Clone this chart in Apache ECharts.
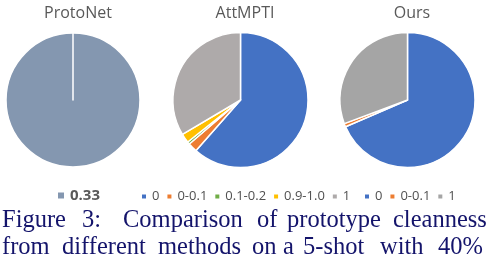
<!DOCTYPE html>
<html>
<head>
<meta charset="utf-8">
<script src="https://cdn.jsdelivr.net/npm/echarts@6/dist/echarts.min.js"></script>
<style>html,body{margin:0;padding:0;background:#fff}#c{width:488px;height:274px}</style>
</head>
<body>
<div id="c"></div>
<script>
// ---- data ----
const titles = ['ProtoNet', 'AttMPTI', 'Ours'];
const protoNames = ['0.33'];
const protoValues = [1];
const attNames = ['0', '0-0.1', '0.1-0.2', '0.9-1.0', '1'];
const attValues = [0.615, 0.022, 0.006, 0.022, 0.335];
const oursNames = ['0', '0-0.1', '1'];
const oursValues = [0.685, 0.008, 0.307];
const captionLine1 = ['Figure', '3:', 'Comparison', 'of', 'prototype', 'cleanness'];
const captionLine2 = ['from', 'different', 'methods', 'on', 'a', '5-shot', 'with', '40%'];

// ---- styles ----
const colorMap = {'0': '#4472C4', '0-0.1': '#ED7D31', '0.1-0.2': '#70AD47', '0.9-1.0': '#FFC000'};
const protoColor = '#8497B0';
const attGray = '#AEAAAA';
const oursGray = '#A5A5A5';
const txt = '#595959';
const capColor = '#14146b';
const line1X = [2, 82, 123, 257, 287, 393];
const line2X = [2, 62, 158, 252, 283, 303, 380, 438];

function mk(names, values, gray) {
  return names.map((n, i) => ({name: n, value: values[i],
    itemStyle: {color: n === '1' ? gray : colorMap[n]}}));
}
const protoData = protoNames.map((n, i) => ({name: n, value: protoValues[i], itemStyle: {color: protoColor}}));
protoData.push({name: ' ', value: 0, itemStyle: {color: protoColor}});

const pieBase = {
  type: 'pie', startAngle: 90, clockwise: true,
  label: {show: false}, labelLine: {show: false},
  itemStyle: {borderColor: '#fff', borderWidth: 1.5},
  emphasis: {disabled: true}, animation: false, stillShowZeroSum: true
};

const capFont = '24.5px "Liberation Serif"';
const graphics = [];
captionLine1.forEach((w, i) => graphics.push({type: 'text', x: line1X[i], y: 221,
  style: {text: w, font: capFont, fill: capColor, verticalAlign: 'middle'}}));
captionLine2.forEach((w, i) => graphics.push({type: 'text', x: line2X[i], y: 248,
  style: {text: w, font: capFont, fill: capColor, verticalAlign: 'middle'}}));

const chart = echarts.init(document.getElementById('c'), null, {renderer: 'canvas'});
chart.setOption({
  animation: false,
  title: [
    {text: titles[0], left: 73, top: 0, textAlign: 'center'},
    {text: titles[1], left: 240, top: 0, textAlign: 'center'},
    {text: titles[2], left: 407, top: 0, textAlign: 'center'}
  ].map(t => Object.assign(t, {textStyle: {fontFamily: 'Open Sans', fontSize: 16, fontWeight: 'normal', color: txt}})),
  legend: [
    {data: protoNames, left: 51, top: 183, icon: 'rect', itemWidth: 8, itemHeight: 8, itemGap: 5,
     textStyle: {fontFamily: 'Open Sans', fontSize: 15, fontWeight: 'bold', color: txt}, selectedMode: false},
    {data: attNames.map(n => ({name: n, itemStyle: {color: n === '1' ? attGray : colorMap[n]}})),
     left: 135, top: 185, icon: 'rect', itemWidth: 6, itemHeight: 6, itemGap: 6,
     textStyle: {fontFamily: 'Open Sans', fontSize: 13, color: '#505050'}, selectedMode: false},
    {data: oursNames.map(n => ({name: n, itemStyle: {color: n === '1' ? oursGray : colorMap[n]}})),
     left: 358, top: 185, icon: 'rect', itemWidth: 6, itemHeight: 6, itemGap: 6,
     textStyle: {fontFamily: 'Open Sans', fontSize: 13, color: '#505050'}, selectedMode: false}
  ],
  series: [
    Object.assign({}, pieBase, {name: titles[0], center: [73, 100], radius: 67, data: protoData}),
    Object.assign({}, pieBase, {name: titles[1], center: [240.5, 100], radius: 67.5, data: mk(attNames, attValues, attGray)}),
    Object.assign({}, pieBase, {name: titles[2], center: [407.5, 100], radius: 67.5, data: mk(oursNames, oursValues, oursGray)})
  ],
  graphic: graphics
});
</script>
</body>
</html>
